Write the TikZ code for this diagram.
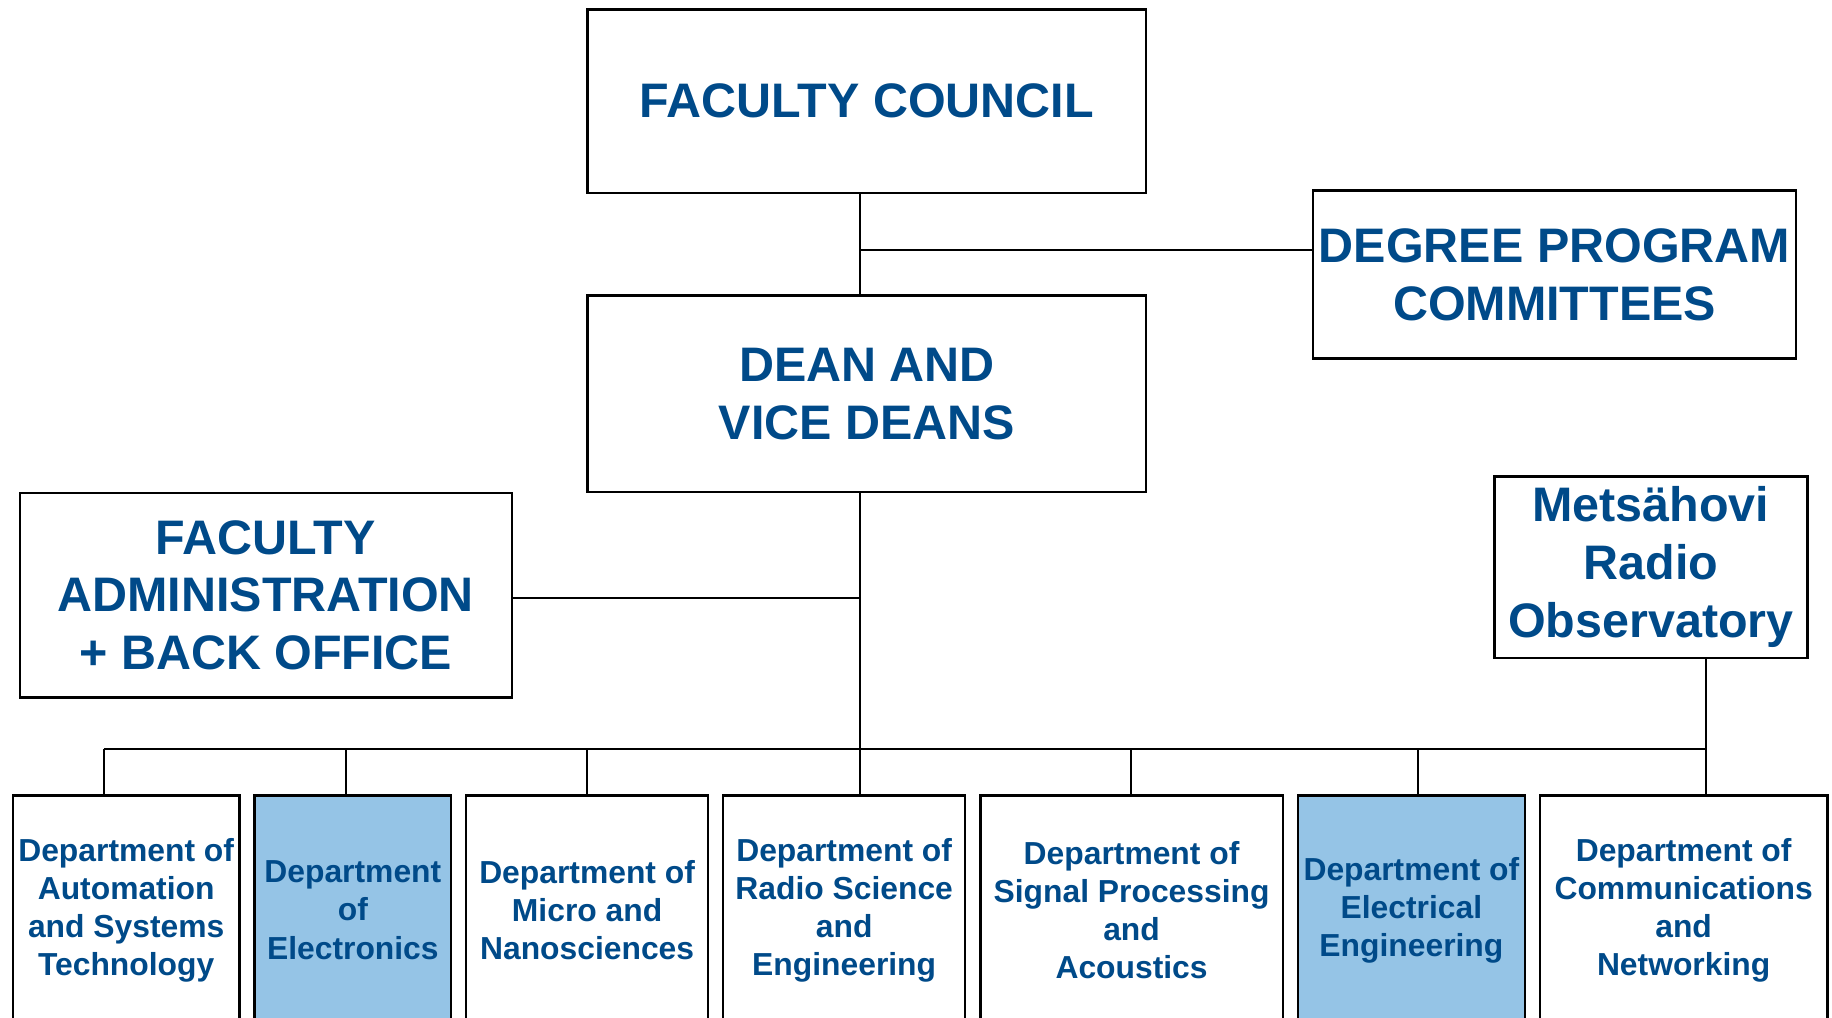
\documentclass[tikz,border=0pt]{standalone}
\usepackage{fontspec}
\setmainfont{Liberation Sans}
\usepackage{tikz}
\usetikzlibrary{positioning, calc}

\definecolor{textblue}{RGB}{0,74,137}
\definecolor{lightblue}{RGB}{149,196,230}

\begin{document}
\begin{tikzpicture}[x=1cm, y=1cm,
      bigbox/.style={rectangle, draw, line width=0.6pt, inner sep=1pt, align=center,
        text=textblue, font=\fontsize{11.8}{14.1}\selectfont\bfseries},
      dept/.style={rectangle, draw, line width=0.6pt, inner sep=1pt, align=center,
        minimum height=1.96cm, text=textblue, font=\fontsize{7.75}{9.3}\selectfont\bfseries},
      link/.style={draw, line width=0.5pt}]

      \clip (0,0) rectangle (15.68,-8.713);

      % Top of the chart
      \node[bigbox, minimum width=4.78cm, minimum height=1.57cm] (council) at (7.42,-0.865) {FACULTY COUNCIL};
      \node[bigbox, minimum width=4.13cm, minimum height=1.44cm] (degree) at (13.305,-2.35) {DEGREE PROGRAM\\COMMITTEES};
      \node[bigbox, minimum width=4.78cm, minimum height=1.68cm] (dean) at (7.42,-3.37) {DEAN AND\\VICE DEANS};
      \node[bigbox, minimum width=4.21cm, minimum height=1.75cm] (admin) at (2.275,-5.095) {FACULTY\\ADMINISTRATION\\+ BACK OFFICE};
      \node[bigbox, minimum width=2.68cm, minimum height=1.55cm] (radio) at (14.13,-4.855) {Metsähovi\\Radio\\Observatory};

      % Departments
      \node[dept, minimum width=1.94cm] (autom) at (1.08,-7.79) {Department of\\Automation\\and Systems\\Technology};
      \node[dept, minimum width=1.68cm, fill=lightblue] (electronics) at (3.02,-7.79) {Department\\of\\Electronics};
      \node[dept, minimum width=2.07cm] (micro) at (5.025,-7.79) {Department of\\Micro and\\Nanosciences};
      \node[dept, minimum width=2.07cm] (radiosci) at (7.225,-7.79) {Department of\\Radio Science\\and\\Engineering};
      \node[dept, minimum width=2.59cm] (signal) at (9.685,-7.79) {Department of\\Signal Processing\\and\\Acoustics};
      \node[dept, minimum width=1.94cm, fill=lightblue] (electrical) at (12.08,-7.79) {Department of\\Electrical\\Engineering};
      \node[dept, minimum width=2.46cm] (comnet) at (14.41,-7.79) {Department of\\Communications\\and\\Networking};

      % Junctions
      \coordinate (upper) at (7.36,-2.14);
      \coordinate (middle) at (7.36,-5.12);
      \coordinate (busL) at (0.89,-6.41);
      \coordinate (busR) at (14.60,-6.41);

      % Spine and side branches
      \draw[link] (council.south -| upper) -- (dean.north -| upper);
      \draw[link] (upper) -- (upper -| degree.west);
      \draw[link] (dean.south -| middle) -- (radiosci.north -| middle);
      \draw[link] (middle) -- (middle -| admin.east);
      \draw[link] (radio.south -| busR) -- (comnet.north -| busR);
      \draw[link] (busL) -- (busR);

      % Drops to the departments
      \foreach \d/\x in {autom/0.89, electronics/2.96, micro/5.02, signal/9.68, electrical/12.14} {
        \coordinate (drop) at (\x,-6.41);
        \draw[link] (drop) -- (drop |- \d.north);
      }
    \end{tikzpicture}
\end{document}
